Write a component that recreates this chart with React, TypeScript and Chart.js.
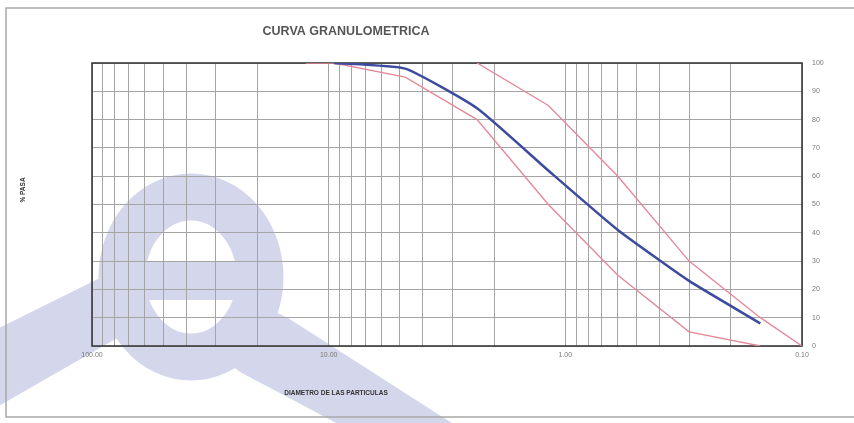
import React, { useEffect, useRef } from "react";
import { Chart, registerables } from "chart.js";

Chart.register(...registerables);

// ---- data ----
const chartTitle = "CURVA GRANULOMETRICA";
const xAxisTitle = "DIAMETRO DE LAS PARTICULAS";
const yAxisTitle = "% PASA";

const sieveSizes = [12.5, 9.5, 4.75, 2.36, 1.18, 0.6, 0.3, 0.15, 0.1];
const passingSample = [null, 100, 98, 84, 62, 41, 23, 8, null];
const lowerLimit = [100, 100, 95, 80, 50, 25, 5, 0, null];
const upperLimit = [null, null, null, 100, 85, 60, 30, 10, 0];

const xDecades = [100, 10, 1, 0.1];
const xTickLabels = ["100.00", "10.00", "1.00", "0.10"];
const yTicks = [0, 10, 20, 30, 40, 50, 60, 70, 80, 90, 100];

const toPoints = (vals: (number | null)[]) =>
  sieveSizes.map((s, i) => ({ x: s, y: vals[i] as any }));

const W = 854;
const H = 423;

const watermarkPlugin = {
  id: "watermark",
  beforeDraw(chart: any) {
    const ctx = chart.ctx;
    ctx.save();
    ctx.fillStyle = "rgb(212,215,236)";
    ctx.strokeStyle = "rgb(212,215,236)";
    // ring
    ctx.lineWidth = 47;
    ctx.beginPath();
    ctx.ellipse(191, 277, 69, 80, 0, 0, Math.PI * 2);
    ctx.stroke();
    // middle bar
    ctx.fillRect(135, 261, 115, 39);
    // left arm
    ctx.beginPath();
    ctx.moveTo(-5, 330);
    ctx.lineTo(112, 272);
    ctx.lineTo(140, 325);
    ctx.lineTo(-5, 408);
    ctx.closePath();
    ctx.fill();
    // right arm
    ctx.beginPath();
    ctx.moveTo(250, 300);
    ctx.lineTo(288, 318);
    ctx.lineTo(455, 425);
    ctx.lineTo(340, 425);
    ctx.lineTo(240, 372);
    ctx.lineTo(222, 358);
    ctx.closePath();
    ctx.fill();
    ctx.restore();

    // outer frame
    ctx.save();
    ctx.strokeStyle = "#a8a8a8";
    ctx.lineWidth = 1.5;
    ctx.beginPath();
    ctx.moveTo(W, 8);
    ctx.lineTo(6, 8);
    ctx.lineTo(6, 417);
    ctx.lineTo(W, 417);
    ctx.stroke();
    ctx.restore();
  },
  beforeDatasetsDraw(chart: any) {
    const { ctx, chartArea: a } = chart;
    ctx.save();
    ctx.strokeStyle = "#3a3a3a";
    ctx.lineWidth = 1.6;
    ctx.strokeRect(a.left, a.top, a.right - a.left, a.bottom - a.top);
    ctx.restore();
  },
  afterDraw(chart: any) {
    const ctx = chart.ctx;
    ctx.save();
    ctx.textAlign = "center";
    ctx.textBaseline = "middle";
    ctx.fillStyle = "#555";
    ctx.font = 'bold 12.5px "Liberation Sans", Arial, sans-serif';
    ctx.fillText(chartTitle, 346, 32);
    ctx.fillStyle = "#333";
    ctx.font = 'bold 6.5px "Liberation Sans", Arial, sans-serif';
    ctx.fillText(xAxisTitle, 336, 393);
    ctx.translate(23, 190);
    ctx.rotate(-Math.PI / 2);
    ctx.fillText(yAxisTitle, 0, 0);
    ctx.restore();
  },
};

export default function App() {
  const ref = useRef<HTMLCanvasElement | null>(null);

  useEffect(() => {
    if (!ref.current) return;
    const gridValues: number[] = [];
    [0.1, 1, 10].forEach((d) => {
      for (let k = 1; k <= 9; k++) gridValues.push(+(d * k).toPrecision(3));
    });
    gridValues.push(100);

    const chart = new Chart(ref.current, {
      type: "line",
      data: {
        datasets: [
          {
            label: "Muestra",
            data: toPoints(passingSample),
            borderColor: "#3c4b9e",
            borderWidth: 2.5,
            pointRadius: 0,
            tension: 0.15,
            spanGaps: false,
          },
          {
            label: "Límite inferior",
            data: toPoints(lowerLimit),
            borderColor: "#e3899a",
            borderWidth: 1.4,
            pointRadius: 0,
            tension: 0,
          },
          {
            label: "Límite superior",
            data: toPoints(upperLimit),
            borderColor: "#e3899a",
            borderWidth: 1.4,
            pointRadius: 0,
            tension: 0,
          },
        ],
      },
      options: {
        responsive: false,
        animation: false,
        layout: { padding: { left: 92, right: 22, top: 63, bottom: 57 } },
        plugins: {
          legend: { display: false },
          title: { display: false },
          tooltip: { enabled: false },
        },
        scales: {
          x: {
            type: "logarithmic",
            reverse: true,
            min: 0.1,
            max: 100,
            afterBuildTicks: (scale: any) => {
              scale.ticks = gridValues.map((v) => ({ value: v }));
            },
            afterFit: (scale: any) => {
              scale.height = 20;
            },
            ticks: {
              autoSkip: false,
              maxRotation: 0,
              padding: 5,
              color: "#777",
              font: { size: 7, family: '"Liberation Sans", Arial, sans-serif' },
              callback: (value: any) => {
                const i = xDecades.findIndex((d) => Math.abs(d - Number(value)) < 1e-9);
                return i >= 0 ? xTickLabels[i] : "";
              },
            },
            grid: { color: "#a5a5a5", lineWidth: 1, drawTicks: false },
            border: { display: false },
          },
          y: {
            position: "right",
            min: 0,
            max: 100,
            afterBuildTicks: (scale: any) => {
              scale.ticks = yTicks.map((v) => ({ value: v }));
            },
            afterFit: (scale: any) => {
              scale.width = 30;
            },
            ticks: {
              padding: 10,
              color: "#777",
              font: { size: 7, family: '"Liberation Sans", Arial, sans-serif' },
            },
            grid: { color: "#a5a5a5", lineWidth: 1, drawTicks: false },
            border: { display: false },
          },
        },
      },
      plugins: [watermarkPlugin],
    } as any);
    return () => chart.destroy();
  }, []);

  return (
    <div style={{ position: "absolute", left: 0, top: 0, width: W, height: H }}>
      <canvas ref={ref} width={W} height={H} style={{ display: "block" }} />
    </div>
  );
}
